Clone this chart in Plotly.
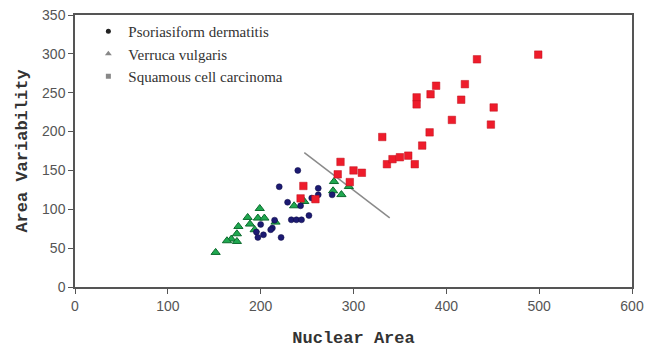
import plotly.graph_objects as go

# Psoriasiform dermatitis (navy dots)
pd_x = [240, 220, 262, 262, 277, 229, 243, 255, 233, 238.5, 244, 252, 215, 200, 212.6, 210.8, 195.4, 203, 197, 222]
pd_y = [150, 129, 127, 118.6, 118.6, 109, 104.5, 114.4, 86.5, 86.5, 86.5, 92, 86, 80.5, 75.8, 73.7, 70.7, 67.2, 63.8, 63.8]

# Verruca vulgaris (green triangles)
vv_x = [279, 278, 287, 295, 247, 236, 199, 186, 197, 204, 188.5, 193.5, 216, 176, 174.4, 168.4, 163.7, 174.4, 151.5]
vv_y = [135.7, 123.8, 118.9, 129.3, 110, 104.5, 101, 89.5, 88.7, 88.7, 81, 73.7, 83.5, 77.9, 68.5, 61.7, 59.5, 58.6, 44.5]

# Squamous cell carcinoma (red squares)
scc_x = [243, 246, 259, 283, 286, 296, 300, 309, 331, 336, 342, 350, 359, 366, 374, 382, 383, 368, 368, 389, 406, 416, 420, 433, 448, 451, 499]
scc_y = [114, 130, 113, 145, 161, 135, 150, 147, 193, 158, 164.5, 167, 169, 158, 182, 199, 248, 244, 235, 259, 215, 241, 261, 293, 209, 231, 299]

# separating line
line_x = [247, 339]
line_y = [173, 89]

legend_names = ["Psoriasiform dermatitis", "Verruca vulgaris", "Squamous cell carcinoma"]

fig = go.Figure()

fig.add_trace(go.Scatter(x=line_x, y=line_y, mode="lines",
                         line=dict(color="#8a8a8a", width=1.5), showlegend=False, hoverinfo="skip"))
fig.add_trace(go.Scatter(x=vv_x, y=vv_y, mode="markers", showlegend=False,
                         marker=dict(symbol="triangle-up", size=8, color="#1fa84f",
                                     line=dict(color="#0c6b2e", width=1))))
fig.add_trace(go.Scatter(x=pd_x, y=pd_y, mode="markers", showlegend=False,
                         marker=dict(symbol="circle", size=6, color="#1c1a72",
                                     line=dict(color="#0e0d45", width=0.5))))
fig.add_trace(go.Scatter(x=scc_x, y=scc_y, mode="markers", showlegend=False,
                         marker=dict(symbol="square", size=7.5, color="#ee1c2b",
                                     line=dict(color="#c0101c", width=0.5))))

# legend entries (gray symbols as in the reference)
fig.add_trace(go.Scatter(x=[None], y=[None], mode="markers", name=legend_names[0],
                         marker=dict(symbol="circle", size=5, color="#222222")))
fig.add_trace(go.Scatter(x=[None], y=[None], mode="markers", name=legend_names[1],
                         marker=dict(symbol="triangle-up", size=6, color="#888888")))
fig.add_trace(go.Scatter(x=[None], y=[None], mode="markers", name=legend_names[2],
                         marker=dict(symbol="square", size=5, color="#888888")))

axis_common = dict(showline=True, linecolor="#555555", linewidth=1.5, mirror=True,
                   ticks="outside", ticklen=5, tickwidth=1.2, tickcolor="#555555",
                   showgrid=False, zeroline=False, automargin=False,
                   ticklabeloverflow="allow",
                   tickfont=dict(family="Liberation Sans, Arial", size=14, color="#555555"))

fig.update_layout(
    width=647, height=349,
    margin=dict(l=75, r=15, t=15, b=62),
    paper_bgcolor="white", plot_bgcolor="white",
    xaxis=dict(range=[0, 600], dtick=100,
               title=dict(text="Nuclear Area", standoff=19,
                          font=dict(family="Liberation Mono, Courier New", size=17, color="#333333")),
               **axis_common),
    yaxis=dict(range=[0, 350], dtick=50,
               title=dict(text="Area Variability", standoff=10,
                          font=dict(family="Liberation Mono, Courier New", size=17, color="#333333")),
               **axis_common),
    legend=dict(x=0.024, y=1.0, xanchor="left", yanchor="top", bgcolor="rgba(0,0,0,0)",
                font=dict(family="Liberation Serif, Times New Roman", size=15, color="#333333"),
                tracegroupgap=0, itemwidth=30),
    showlegend=True,
)
fig.update_xaxes(title_font_weight="bold")
fig.update_yaxes(title_font_weight="bold")

fig.write_html("out.html", config={"displayModeBar": False},
               post_script="document.body.style.margin='0';document.body.style.overflow='hidden';")
